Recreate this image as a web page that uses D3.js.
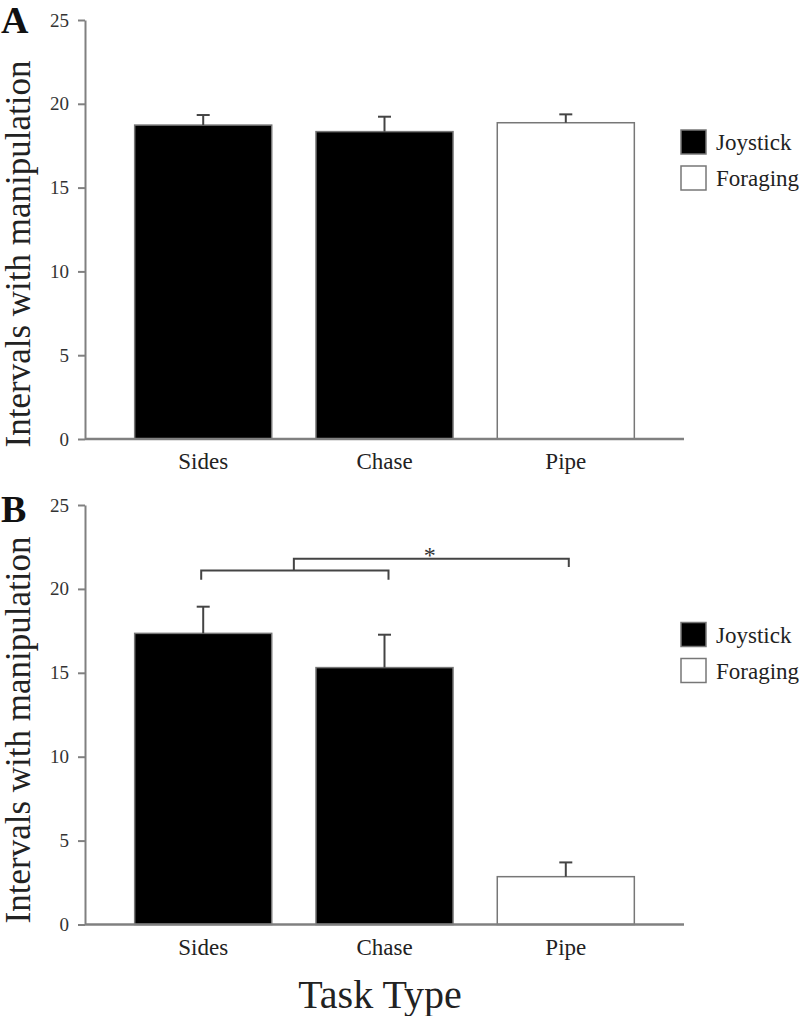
<!DOCTYPE html>
<html>
<head>
<meta charset="utf-8">
<script src="https://cdn.jsdelivr.net/npm/d3@7"></script>
<style>
	body { margin: 0; background: #fff; }
	svg { display: block; }
	svg text { font-family: "Liberation Serif", "Times New Roman", serif; }
	.axis path, .axis line { stroke: #808080; stroke-width: 2; }
	.axis text { fill: #333; font-size: 19px; }
</style>
</head>
<body>
<script>
const categories = ['Sides', 'Chase', 'Pipe'];
const taskGroup = ['Joystick', 'Joystick', 'Foraging'];
const meansA = [18.73, 18.34, 18.87];
const semA = [0.6, 0.89, 0.5];
const meansB = [17.35, 15.31, 2.85];
const semB = [1.59, 1.96, 0.85];
const yTicks = [0, 5, 10, 15, 20, 25];
const legendLabels = ['Joystick', 'Foraging'];
// significance bracket in panel B: (Sides,Chase) vs Pipe
const bracketLow = 21.1, bracketLowLeg = 20.55;
const bracketHigh = 21.8, bracketHighLeg = 21.3;

const width = 800, height = 1016;
const serif = '"Liberation Serif", "Times New Roman", serif';

const svg = d3.select('body').append('svg')
	.attr('width', width)
	.attr('height', height);

const fill = d3.scaleOrdinal().domain(legendLabels).range(['#000', '#fff']);

const x = d3.scaleBand()
	.domain(categories)
	.range([85, 684])
	.paddingInner(0.244)
	.paddingOuter(0.274);

const panels = [
	{ letter: 'A', means: meansA, sem: semA, y0: 439, y1: 20, letterY: 33, titleY: 254, legendY: 130 },
	{ letter: 'B', means: meansB, sem: semB, y0: 924.5, y1: 505, letterY: 522, titleY: 730, legendY: 622.5 }
];

panels.forEach(p => {
	const y = d3.scaleLinear().domain([0, 25]).range([p.y0, p.y1]);
	const g = svg.append('g');

	const rows = categories.map((c, i) => ({ cat: c, group: taskGroup[i], mean: p.means[i], sem: p.sem[i] }));

	// bars
	g.selectAll('rect.bar')
		.data(rows)
		.enter().append('rect')
		.attr('class', 'bar')
		.attr('x', d => x(d.cat))
		.attr('width', x.bandwidth())
		.attr('y', d => y(d.mean))
		.attr('height', d => y(0) - y(d.mean))
		.attr('fill', d => fill(d.group))
		.attr('stroke', '#777')
		.attr('stroke-width', 1.5);

	// error bars (upper only)
	const cap = 6.5;
	const eb = g.selectAll('g.err')
		.data(rows)
		.enter().append('g')
		.attr('class', 'err')
		.attr('stroke', '#444')
		.attr('stroke-width', 2);
	eb.append('line')
		.attr('x1', d => x(d.cat) + x.bandwidth() / 2)
		.attr('x2', d => x(d.cat) + x.bandwidth() / 2)
		.attr('y1', d => y(d.mean))
		.attr('y2', d => y(d.mean + d.sem));
	eb.append('line')
		.attr('x1', d => x(d.cat) + x.bandwidth() / 2 - cap)
		.attr('x2', d => x(d.cat) + x.bandwidth() / 2 + cap)
		.attr('y1', d => y(d.mean + d.sem))
		.attr('y2', d => y(d.mean + d.sem));

	// y axis
	g.append('g')
		.attr('class', 'axis')
		.attr('transform', 'translate(85,0)')
		.call(d3.axisLeft(y).tickValues(yTicks).tickSize(7).tickSizeOuter(0).tickPadding(9))
		.attr('font-family', serif)
		.attr('font-size', 19);

	// x axis
	g.append('line')
		.attr('x1', 85).attr('x2', 684)
		.attr('y1', y(0)).attr('y2', y(0))
		.attr('stroke', '#808080').attr('stroke-width', 2.5);

	g.selectAll('text.cat')
		.data(categories)
		.enter().append('text')
		.attr('class', 'cat')
		.attr('x', d => x(d) + x.bandwidth() / 2)
		.attr('y', y(0) + 30)
		.attr('text-anchor', 'middle')
		.attr('font-family', serif)
		.attr('font-size', 23)
		.attr('fill', '#222')
		.text(d => d);

	// y title
	g.append('text')
		.attr('transform', `translate(30,${p.titleY}) rotate(-90)`)
		.attr('text-anchor', 'middle')
		.attr('font-family', serif)
		.attr('font-size', 35)
		.attr('fill', '#222')
		.text('Intervals with manipulation');

	// panel letter
	g.append('text')
		.attr('x', 1)
		.attr('y', p.letterY)
		.attr('font-family', serif)
		.attr('font-size', 38)
		.attr('font-weight', 'bold')
		.attr('fill', '#111')
		.text(p.letter);

	// legend
	const lg = g.selectAll('g.leg')
		.data(legendLabels)
		.enter().append('g')
		.attr('class', 'leg')
		.attr('transform', (d, i) => `translate(681,${p.legendY + i * 36})`);
	lg.append('rect')
		.attr('width', 25).attr('height', 24)
		.attr('fill', d => fill(d))
		.attr('stroke', '#777').attr('stroke-width', 1.5);
	lg.append('text')
		.attr('x', 35).attr('y', 20)
		.attr('font-family', serif)
		.attr('font-size', 23)
		.attr('fill', '#222')
		.text(d => d);

	if (p.letter === 'B') {
		const cx = c => x(c) + x.bandwidth() / 2;
		const mid = (cx('Sides') + cx('Chase')) / 2;
		const br = g.append('g').attr('fill', 'none').attr('stroke', '#444').attr('stroke-width', 2);
		br.append('path')
			.attr('d', `M${cx('Sides') - 2},${y(bracketLowLeg)}V${y(bracketLow)}H${cx('Chase') + 4}V${y(bracketLowLeg)}`);
		br.append('path')
			.attr('d', `M${mid},${y(bracketLow)}V${y(bracketHigh)}H${cx('Pipe') + 3}V${y(bracketHighLeg)}`);
		g.append('text')
			.attr('x', (mid + cx('Pipe')) / 2)
			.attr('y', y(bracketHigh) + 4)
			.attr('text-anchor', 'middle')
			.attr('font-family', serif)
			.attr('font-size', 24)
			.attr('fill', '#333')
			.text('*');
	}
});

// shared x title
svg.append('text')
	.attr('x', 380)
	.attr('y', 1008)
	.attr('text-anchor', 'middle')
	.attr('font-family', serif)
	.attr('font-size', 40)
	.attr('fill', '#222')
	.text('Task Type');
</script>
</body>
</html>
